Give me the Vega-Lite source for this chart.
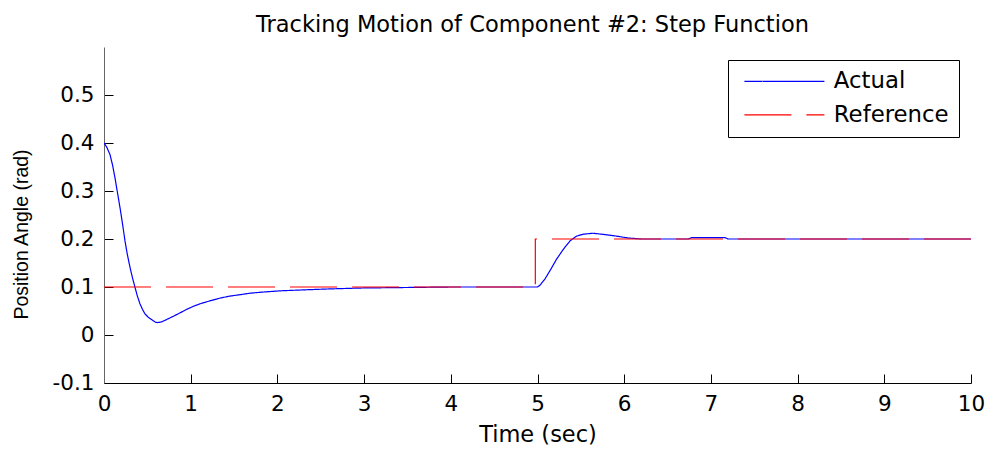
{
  "$schema": "https://vega.github.io/schema/vega-lite/v6.json",
  "width": 867,
  "height": 336,
  "autosize": {"type": "none"},
  "padding": {"left": 104, "top": 47, "right": 21, "bottom": 66},
  "background": "white",
  "title": {
    "text": "Tracking Motion of Component #2: Step Function",
    "font": "DejaVu Sans",
    "fontSize": 22.5,
    "fontWeight": "normal",
    "color": "#000000",
    "baseline": "alphabetic",
    "offset": -7,
    "dx": -5
  },
  "data": {
    "values": [
      {"t": 0, "v": 0.4, "series": "Actual"},
      {"t": 0.03, "v": 0.392, "series": "Actual"},
      {"t": 0.069, "v": 0.376, "series": "Actual"},
      {"t": 0.1, "v": 0.353, "series": "Actual"},
      {"t": 0.127, "v": 0.327, "series": "Actual"},
      {"t": 0.155, "v": 0.297, "series": "Actual"},
      {"t": 0.185, "v": 0.265, "series": "Actual"},
      {"t": 0.215, "v": 0.23, "series": "Actual"},
      {"t": 0.242, "v": 0.196, "series": "Actual"},
      {"t": 0.27, "v": 0.167, "series": "Actual"},
      {"t": 0.3, "v": 0.141, "series": "Actual"},
      {"t": 0.33, "v": 0.118, "series": "Actual"},
      {"t": 0.358, "v": 0.099, "series": "Actual"},
      {"t": 0.385, "v": 0.081, "series": "Actual"},
      {"t": 0.415, "v": 0.065, "series": "Actual"},
      {"t": 0.445, "v": 0.053, "series": "Actual"},
      {"t": 0.473, "v": 0.044, "series": "Actual"},
      {"t": 0.51, "v": 0.037, "series": "Actual"},
      {"t": 0.55, "v": 0.032, "series": "Actual"},
      {"t": 0.59, "v": 0.027, "series": "Actual"},
      {"t": 0.615, "v": 0.026, "series": "Actual"},
      {"t": 0.66, "v": 0.027, "series": "Actual"},
      {"t": 0.72, "v": 0.032, "series": "Actual"},
      {"t": 0.8, "v": 0.039, "series": "Actual"},
      {"t": 0.876, "v": 0.046, "series": "Actual"},
      {"t": 0.95, "v": 0.053, "series": "Actual"},
      {"t": 1.02, "v": 0.059, "series": "Actual"},
      {"t": 1.107, "v": 0.065, "series": "Actual"},
      {"t": 1.22, "v": 0.071, "series": "Actual"},
      {"t": 1.34, "v": 0.077, "series": "Actual"},
      {"t": 1.45, "v": 0.081, "series": "Actual"},
      {"t": 1.57, "v": 0.084, "series": "Actual"},
      {"t": 1.68, "v": 0.087, "series": "Actual"},
      {"t": 1.8, "v": 0.089, "series": "Actual"},
      {"t": 2.03, "v": 0.092, "series": "Actual"},
      {"t": 2.3, "v": 0.094, "series": "Actual"},
      {"t": 2.6, "v": 0.096, "series": "Actual"},
      {"t": 3.0, "v": 0.098, "series": "Actual"},
      {"t": 3.5, "v": 0.099, "series": "Actual"},
      {"t": 4.0, "v": 0.1, "series": "Actual"},
      {"t": 5.0, "v": 0.1, "series": "Actual"},
      {"t": 5.03, "v": 0.104, "series": "Actual"},
      {"t": 5.087, "v": 0.117, "series": "Actual"},
      {"t": 5.144, "v": 0.134, "series": "Actual"},
      {"t": 5.22, "v": 0.158, "series": "Actual"},
      {"t": 5.3, "v": 0.179, "series": "Actual"},
      {"t": 5.375, "v": 0.196, "series": "Actual"},
      {"t": 5.45, "v": 0.206, "series": "Actual"},
      {"t": 5.53, "v": 0.21, "series": "Actual"},
      {"t": 5.64, "v": 0.212, "series": "Actual"},
      {"t": 5.74, "v": 0.21, "series": "Actual"},
      {"t": 5.875, "v": 0.207, "series": "Actual"},
      {"t": 5.98, "v": 0.204, "series": "Actual"},
      {"t": 6.05, "v": 0.202, "series": "Actual"},
      {"t": 6.2, "v": 0.2, "series": "Actual"},
      {"t": 6.74, "v": 0.2, "series": "Actual"},
      {"t": 6.78, "v": 0.203, "series": "Actual"},
      {"t": 7.16, "v": 0.203, "series": "Actual"},
      {"t": 7.2, "v": 0.2, "series": "Actual"},
      {"t": 10, "v": 0.2, "series": "Actual"},
      {"t": 0, "v": 0.1, "series": "Reference"},
      {"t": 4.975, "v": 0.1, "series": "Reference"},
      {"t": 4.975, "v": 0.2, "series": "Reference"},
      {"t": 10, "v": 0.2, "series": "Reference"}
    ]
  },
  "mark": {"type": "line", "strokeWidth": 1.2, "interpolate": "linear", "clip": true},
  "encoding": {
    "x": {
      "field": "t",
      "type": "quantitative",
      "scale": {"domain": [0, 10], "nice": false, "zero": false},
      "axis": {
        "title": "Time (sec)",
        "values": [0, 1, 2, 3, 4, 5, 6, 7, 8, 9, 10],
        "format": "d",
        "labelFlush": false,
        "labelOverlap": false,
        "titleY": 58,
        "titleBaseline": "alphabetic"
      }
    },
    "y": {
      "field": "v",
      "type": "quantitative",
      "scale": {"domain": [-0.1, 0.6], "nice": false, "zero": false},
      "axis": {
        "title": "Position Angle (rad)",
        "values": [-0.1, 0, 0.1, 0.2, 0.3, 0.4, 0.5],
        "labelExpr": "datum.value == 0 ? '0' : replace(format(datum.value, '.1f'), '\u2212', '-')",
        "labelFlush": false,
        "labelOverlap": false,
        "titleFont": "Liberation Sans",
        "titleFontSize": 19.5,
        "titleAngle": -90,
        "titleX": -77,
        "titleY": 187,
        "titleAlign": "center",
        "titleBaseline": "alphabetic",
        "domainColor": "#666666"
      }
    },
    "color": {
      "field": "series",
      "type": "nominal",
      "scale": {"domain": ["Actual", "Reference"], "range": ["#0000ff", "#ff0000"]},
      "legend": {
        "title": null,
        "orient": "none",
        "legendX": 624,
        "legendY": 13,
        "symbolType": "M-0.5,0H7.5",
        "symbolSize": 400,
        "symbolStrokeWidth": 1.2,
        "labelFont": "DejaVu Sans",
        "labelFontSize": 22.8,
        "labelColor": "#000000",
        "labelOffset": 73,
        "rowPadding": 9.5,
        "padding": 10,
        "strokeColor": "#000000",
        "fillColor": "#ffffff"
      }
    },
    "strokeDash": {
      "field": "series",
      "type": "nominal",
      "scale": {"domain": ["Actual", "Reference"], "range": [[1, 0], [47, 15]]},
      "legend": {
        "title": null,
        "orient": "none",
        "legendX": 624,
        "legendY": 13,
        "symbolType": "M-0.5,0H7.5",
        "symbolSize": 400,
        "symbolStrokeWidth": 1.2,
        "labelFont": "DejaVu Sans",
        "labelFontSize": 22.8,
        "labelColor": "#000000",
        "labelOffset": 73,
        "rowPadding": 9.5,
        "padding": 10,
        "strokeColor": "#000000",
        "fillColor": "#ffffff"
      }
    }
  },
  "config": {
    "view": {"stroke": null},
    "axis": {
      "grid": false,
      "domainColor": "#000000",
      "domainWidth": 1,
      "tickColor": "#000000",
      "tickSize": -9,
      "tickWidth": 1,
      "labelFont": "DejaVu Sans",
      "labelFontSize": 21.5,
      "labelColor": "#000000",
      "titleFont": "DejaVu Sans",
      "titleFontSize": 22.5,
      "titleFontWeight": "normal",
      "titleColor": "#000000",
      "labelPadding": 19
    }
  }
}
